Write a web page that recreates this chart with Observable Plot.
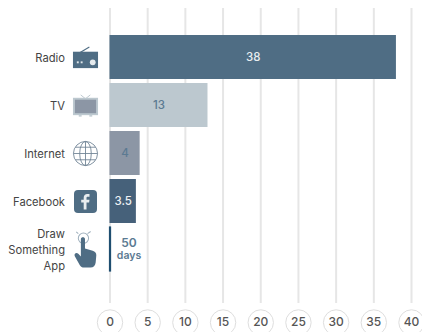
<!DOCTYPE html>
<html>
<head>
<meta charset="utf-8">
<script src="https://cdn.jsdelivr.net/npm/d3@7"></script>
<script src="https://cdn.jsdelivr.net/npm/@observablehq/plot@0.6"></script>
<style>
  html, body { margin: 0; padding: 0; background: #fff; }
  svg { display: block; }
</style>
</head>
<body>
<div id="chart"></div>
<script>
// Years taken by each medium to reach its audience.
const categories = ["Radio", "TV", "Internet", "Facebook", "Draw Something App"];
const axisLabels = ["Radio", "TV", "Internet", "Facebook", "Draw\nSomething\nApp"];
const years = [38, 13, 4, 3.5, 0.137];
const valueLabels = ["38", "13", "4", "3.5"];
const barColors = ["#4f6d84", "#bcc8cf", "#8c96a5", "#46617a", "#1f4e70"];
const labelColors = ["#e8edf0", "#5b7a92", "#5b7a92", "#eef1f4"];
const xTicks = [0, 5, 10, 15, 20, 25, 30, 35, 40];

// Small inline pictograms, one per medium.
const svgUri = (w, h, body) =>
  "data:image/svg+xml," + encodeURIComponent(
    `<svg xmlns="http://www.w3.org/2000/svg" viewBox="0 0 ${w} ${h}" width="${w}" height="${h}">${body}</svg>`);

const icons = [
  svgUri(28, 24, `<path d="M8 7 L18 1" stroke="#4f6d84" stroke-width="1.2"/>
    <rect x="1" y="6" width="26" height="17" fill="#4f6d84"/>
    <rect x="5" y="10" width="11" height="3" fill="#4f6d84"/>
    <circle cx="21.500" cy="17" r="3" fill="#e6ebee"/>
    <rect x="5" y="16" width="2" height="2" fill="#dfe6ea"/><rect x="9" y="16" width="2" height="2" fill="#dfe6ea"/>`),
  svgUri(28, 24, `<path d="M9 1 L14 5 L19 1" fill="none" stroke="#bcc8cf" stroke-width="1"/>
    <rect x="1" y="4" width="26" height="18" fill="#bcc8cf"/>
    <rect x="3" y="6" width="22" height="14" fill="#8c96a5"/>
    <rect x="7" y="22" width="3" height="1.5" fill="#bcc8cf"/><rect x="18" y="22" width="3" height="1.5" fill="#bcc8cf"/>`),
  svgUri(28, 28, `<g fill="none" stroke="#6f8294" stroke-width="0.9">
    <circle cx="14" cy="14" r="12.5"/><ellipse cx="14" cy="14" rx="6" ry="12.5"/>
    <path d="M14 1.5V26.5M1.5 14H26.5M3.5 7.5H24.5M3.5 20.5H24.5"/></g>`),
  svgUri(24, 24, `<rect x="0.5" y="0.5" width="23" height="23" rx="4" fill="#4f6d84"/>
    <path d="M13 20V13h2.600l.4-2.800h-3V8.600c0-.9.3-1.400 1.500-1.400H16V4.600c-.4 0-1.200-.1-2.200-.1-2.200 0-3.600 1.300-3.600 3.800v1.900H7.700V13h2.500v7z" fill="#e8edf0"/>`),
  svgUri(22, 36, `<g fill="none" stroke="#9fb0bd" stroke-width="1"><circle cx="9" cy="7" r="5"/><path d="M13 2.500 L16 0.500M4 2.500 L2 0.800"/></g>
    <path d="M6.500 8c0-2.400 4-2.400 4 0V17l7.500 2.200c2.300.7 3.700 2.300 3.500 4.600l-.6 6.800c-.3 3-2.200 5-5 5H9.500c-1.800 0-3-.7-4-2.300L.6 24.500c-1.200-2.200 1.500-4.300 3.400-2.300l2.500 2.600z" fill="#4f6d84"/>`)
];
const iconSizes = [27, 27, 27, 24, 37];

const rows = categories.map((name, i) => ({
  name, value: years[i], axisLabel: axisLabels[i], color: barColors[i],
  label: valueLabels[i], labelColor: labelColors[i], icon: icons[i], size: iconSizes[i]
}));

const font = "Inter, 'Noto Sans', sans-serif";

const chart = Plot.plot({
  width: 422,
  height: 332,
  marginTop: 8,
  marginBottom: 29,
  marginLeft: 0,
  marginRight: 0,
  style: { fontFamily: font, background: "#fff" },
  x: { domain: [0, 40], range: [109.5, 411], axis: null },
  y: { type: "band", domain: categories, range: [35, 272], paddingInner: 0.083, paddingOuter: 0, axis: null },
  marks: [
    // Grid, drawn under the bars.
    Plot.ruleX(xTicks, { stroke: "#e6e6e6", strokeWidth: 2 }),

    // Bars; the shortest one keeps a visible hairline from its outline.
    Plot.barX(rows, { x: "value", y: "name", fill: d => d.color }),
    Plot.barX(rows.slice(4), { x: "value", y: "name", fill: d => d.color, stroke: d => d.color, strokeWidth: 1.2 }),

    // Values inside the bars.
    Plot.text(rows.slice(0, 4), {
      x: d => d.value / 2, y: "name", text: "label", fill: d => d.labelColor,
      fontSize: 11.5, fontWeight: 500
    }),
    // The app's figure is in days and sits just beyond its bar.
    Plot.text(rows.slice(4), {
      x: 0, y: "name", text: () => "50", dx: 19, dy: -6.5, fill: "#5b7a92",
      fontSize: 12, fontWeight: 600
    }),
    Plot.text(rows.slice(4), {
      x: 0, y: "name", text: () => "days", dx: 19, dy: 6, fill: "#5b7a92",
      fontSize: 10.5, fontWeight: 600
    }),

    // Category names and their pictograms, left of the zero line.
    Plot.text(rows, {
      x: 0, y: "name", text: "axisLabel", dx: -45, dy: -0.5, textAnchor: "end",
      fill: "#444", fontSize: 11.2, lineHeight: 1.42, fontWeight: 400
    }),
    Plot.image(rows, { x: 0, y: "name", src: "icon", dx: -24.5, width: "size", height: "size" }),

    // Circled tick labels along the bottom.
    Plot.dot(xTicks, { x: d => d, frameAnchor: "bottom", dy: 19, r: 12.7, fill: "#fff", stroke: "#dedede", strokeWidth: 1 }),
    Plot.text(xTicks, { x: d => d, frameAnchor: "bottom", dy: 19, text: d => String(d), fill: "#555", fontSize: 12, fontWeight: 500, lineAnchor: "middle" })
  ]
});

document.getElementById("chart").append(chart);
</script>
</body>
</html>
